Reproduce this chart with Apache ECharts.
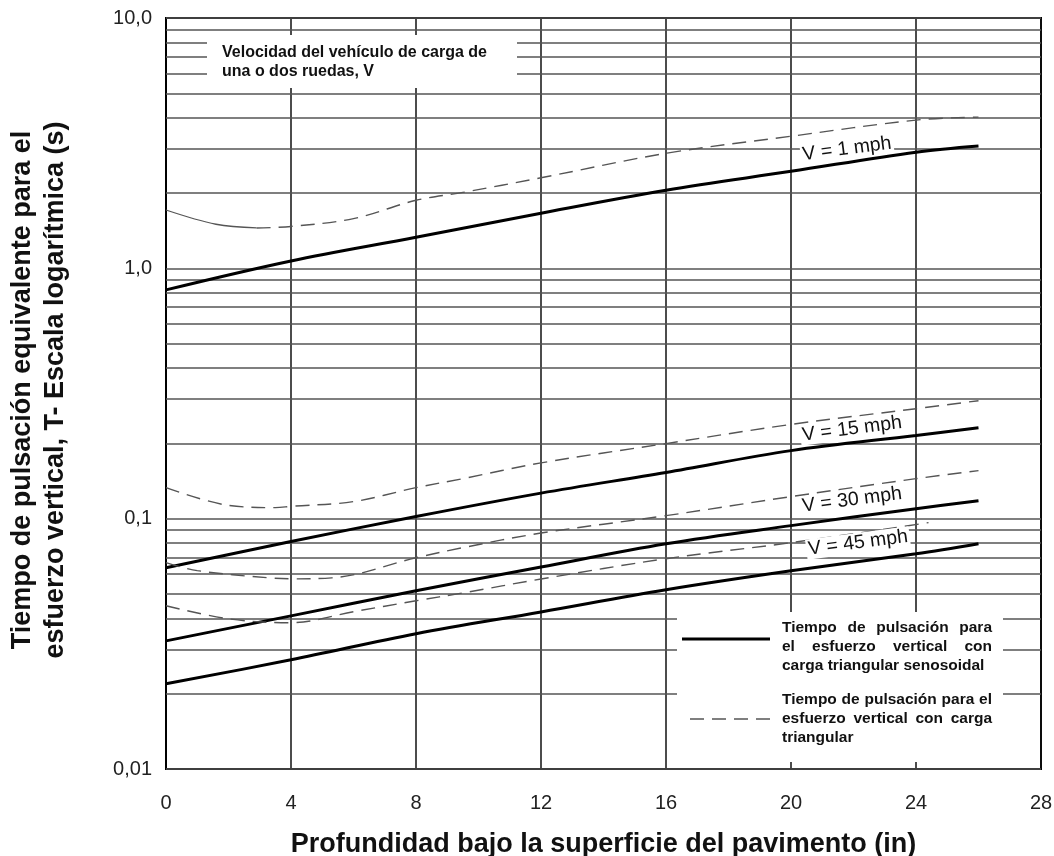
<!DOCTYPE html>
<html>
<head>
<meta charset="utf-8">
<script src="https://cdn.jsdelivr.net/npm/echarts@6/dist/echarts.min.js"></script>
<style>
html,body{margin:0;padding:0;background:#fff;}
#chart{width:1054px;height:856px;}
</style>
</head>
<body>
<div id="chart"></div>
<script>
// ---- data (depth in inches, pulse time in seconds) ----
const xTicks = [0, 4, 8, 12, 16, 20, 24, 28];
const yTickLabels = ['0,01', '0,1', '1,0', '10,0'];
const decades = [0.01, 0.1, 1];
const gridMultipliers = [1, 2, 3, 4, 5, 6, 7, 8, 9];

const v1Sine  = [[0,0.82],[4,1.07],[8,1.33],[12,1.66],[16,2.05],[20,2.44],[24,2.91],[26,3.08]];
const v1TriThin = [[0,1.71],[1.6,1.50],[2.9,1.45]];
const v1Tri   = [[2.9,1.45],[4,1.47],[6,1.58],[8,1.87],[9.5,2.01],[12,2.30],[16,2.88],[20,3.37],[24,3.91],[26,4.02]];
const v15Sine = [[0,0.0637],[4,0.081],[8,0.102],[12,0.1265],[16,0.153],[20,0.187],[24,0.215],[26,0.231]];
const v15Tri  = [[0,0.133],[2,0.113],[3.5,0.1107],[4,0.112],[6,0.117],[8,0.133],[9.5,0.1445],[12,0.167],[16,0.1995],[20,0.238],[24,0.275],[26,0.296]];
const v30Sine = [[0,0.0325],[4,0.0409],[8,0.0515],[12,0.0641],[16,0.0794],[20,0.0938],[24,0.1096],[26,0.118]];
const v30Tri  = [[0,0.0667],[1,0.062],[3.3,0.058],[4,0.0575],[5.3,0.058],[8,0.0698],[9.5,0.0766],[12,0.0876],[16,0.1028],[20,0.1225],[24,0.1445],[26,0.1556]];
const v45Sine = [[0,0.0219],[4,0.0273],[8,0.0347],[12,0.0424],[16,0.052],[20,0.0619],[24,0.0724],[26,0.0794]];
const v45Tri  = [[0,0.0449],[2,0.0398],[4,0.0384],[6,0.0425],[8,0.047],[9.5,0.0505],[12,0.0574],[16,0.0692],[20,0.0802],[24.4,0.0964]];

const curveLabels = ['V = 1 mph', 'V = 15 mph', 'V = 30 mph', 'V = 45 mph'];
const legendSine = ['Tiempo de pulsación para', 'el esfuerzo vertical con', 'carga triangular senosoidal'];
const legendTri = ['Tiempo de pulsación para el', 'esfuerzo vertical con carga', 'triangular'];
const noteLines = ['Velocidad del vehículo de carga de', 'una o dos ruedas, V'];

// ---- build ----
const FONT = '"Liberation Sans", Arial, Helvetica, sans-serif';
const gridValues = [];
decades.forEach(d => gridMultipliers.forEach(m => gridValues.push(+(d * m).toPrecision(3))));
gridValues.push(10);

const solidStyle = {color: '#000', width: 3};
const dashStyle = {color: '#555', width: 1.4, type: [14, 8]};
function curve(name, data, style) {
  return {name, type: 'line', data, smooth: 0.35, symbol: 'none', z: 5,
          lineStyle: style, silent: true, animation: false};
}

const canvasCtx = document.createElement('canvas').getContext('2d');
function textLine(str, x0, width, y, font, justify) {
  canvasCtx.font = font;
  const words = str.split(' ');
  const mk = (t, x) => ({type: 'text', x, y, z: 101,
    style: {text: t, font, fill: '#111', align: 'left', verticalAlign: 'middle',
            textAlign: 'left', textVerticalAlign: 'middle'}});
  if (!justify || words.length < 2) return [mk(str, x0)];
  const widths = words.map(w => canvasCtx.measureText(w).width);
  const total = widths.reduce((a, b) => a + b, 0);
  const gap = (width - total) / (words.length - 1);
  const out = [];
  let x = x0;
  words.forEach((w, i) => { out.push(mk(w, x)); x += widths[i] + gap; });
  return out;
}

const legFont = 'bold 15.5px ' + FONT;
const noteFont = 'bold 16px ' + FONT;
const graphics = [
  // note box (top-left)
  {type: 'rect', z: 100, shape: {x: 207, y: 35, width: 310, height: 53}, style: {fill: '#fff'}},
  ...textLine(noteLines[0], 222, 0, 53, noteFont, false),
  ...textLine(noteLines[1], 222, 0, 72, noteFont, false),
  // legend box (bottom-right)
  {type: 'rect', z: 100, shape: {x: 677, y: 612, width: 326, height: 150}, style: {fill: '#fff'}},
  {type: 'line', z: 101, shape: {x1: 682, y1: 639, x2: 770, y2: 639}, style: {stroke: '#000', lineWidth: 3}},
  {type: 'line', z: 101, shape: {x1: 690, y1: 719, x2: 770, y2: 719}, style: {stroke: '#555', lineWidth: 1.4, lineDash: [14, 8]}},
  ...textLine(legendSine[0], 782, 210, 628, legFont, true),
  ...textLine(legendSine[1], 782, 210, 647, legFont, true),
  ...textLine(legendSine[2], 782, 210, 666, legFont, false),
  ...textLine(legendTri[0], 782, 210, 700, legFont, true),
  ...textLine(legendTri[1], 782, 210, 719, legFont, true),
  ...textLine(legendTri[2], 782, 210, 738, legFont, false),
  // y axis title
  {type: 'text', z: 101, x: 39, y: 390, rotation: Math.PI / 2,
   style: {text: 'Tiempo de pulsación equivalente para el\nesfuerzo vertical, T- Escala logarítmica (s)',
           font: 'bold 27px ' + FONT, lineHeight: 33, fill: '#111',
           align: 'center', verticalAlign: 'middle', textAlign: 'center', textVerticalAlign: 'middle'}}
];
const labelPos = [[847, 149], [852, 429], [852, 500], [858, 543]];
curveLabels.forEach((t, i) => {
  graphics.push({type: 'text', z: 102, x: labelPos[i][0], y: labelPos[i][1], rotation: 0.13,
    style: {text: t, font: '19.5px ' + FONT, fill: '#111', backgroundColor: '#fff', padding: [0, 2],
            align: 'center', verticalAlign: 'middle', textAlign: 'center', textVerticalAlign: 'middle'}});
});

const option = {
  backgroundColor: '#fff',
  animation: false,
  grid: {left: 166, right: 13, top: 18, bottom: 87, show: true, borderColor: '#000', borderWidth: 2,
         containLabel: false, outerBoundsMode: 'none'},
  xAxis: {
    type: 'value', min: xTicks[0], max: xTicks[xTicks.length - 1], interval: xTicks[1] - xTicks[0],
    axisLine: {show: true, lineStyle: {color: '#000', width: 2}},
    axisTick: {show: false},
    axisLabel: {fontSize: 20, color: '#222', margin: 24, fontFamily: FONT},
    splitLine: {show: true, lineStyle: {color: '#111', width: 1.5}},
    name: 'Profundidad bajo la superficie del pavimento (in)',
    nameLocation: 'middle', nameGap: 62,
    nameTextStyle: {fontSize: 27, fontWeight: 'bold', color: '#111', fontFamily: FONT}
  },
  yAxis: {
    type: 'log', logBase: 10, min: 0.01, max: 10,
    axisLine: {show: true, lineStyle: {color: '#000', width: 2}},
    axisTick: {show: false},
    axisLabel: {fontSize: 20, color: '#222', margin: 14, fontFamily: FONT,
      formatter: v => yTickLabels[Math.round(Math.log10(v)) + 2]},
    splitLine: {show: false},
    minorSplitLine: {show: false}
  },
  graphic: {elements: graphics},
  series: [
    {name: 'grid', type: 'line', data: [], z: 1, silent: true,
     markLine: {silent: true, symbol: 'none', label: {show: false}, animation: false,
                lineStyle: {color: '#555', width: 1.5, type: 'solid'},
                data: gridValues.map(v => ({yAxis: v}))}},
    curve('V1 senosoidal', v1Sine, solidStyle),
    curve('V1 triangular (inicio)', v1TriThin, {color: '#555', width: 1.3, type: 'solid'}),
    curve('V1 triangular', v1Tri, dashStyle),
    curve('V15 senosoidal', v15Sine, solidStyle),
    curve('V15 triangular', v15Tri, dashStyle),
    curve('V30 senosoidal', v30Sine, solidStyle),
    curve('V30 triangular', v30Tri, dashStyle),
    curve('V45 senosoidal', v45Sine, solidStyle),
    curve('V45 triangular', v45Tri, dashStyle)
  ]
};
const chart = echarts.init(document.getElementById('chart'), null, {renderer: 'canvas'});
chart.setOption(option);
</script>
</body>
</html>
